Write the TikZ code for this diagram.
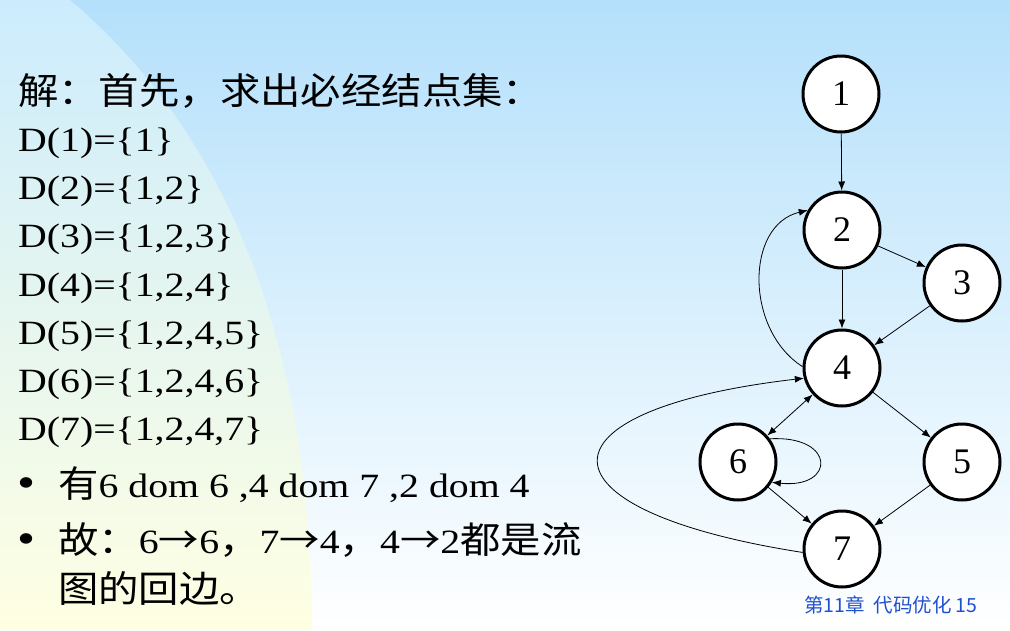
\documentclass[tikz,border=0pt]{standalone}
\usepackage{fontspec}
\setmainfont{Liberation Serif}[FakeStretch=1.17]
\newfontfamily\cjk{Noto Sans CJK SC}[Scale=1.08,FakeStretch=1.1]
\newfontfamily\numfont{Liberation Serif}
\newfontfamily\footfont{Noto Sans CJK SC}
\usetikzlibrary{arrows.meta}
\definecolor{skyTop}{RGB}{180,224,251}
\definecolor{skyMid}{RGB}{216,239,253}
\definecolor{paneTop}{RGB}{204,236,253}
\definecolor{paneMid}{RGB}{236,246,238}
\definecolor{paneBot}{RGB}{255,255,226}
\definecolor{footBlue}{RGB}{32,80,204}

\begin{document}
\begin{tikzpicture}
      [ x=1pt, y=-1pt
      , >={Latex[length=9pt,width=7pt]}
      , block/.style={circle, draw, fill=white, line width=3pt, minimum size=76pt, inner sep=0pt, font=\numfont\fontsize{36}{36}\selectfont}
      , flow/.style={black, draw, line width=0.8pt}
      , txt/.style={anchor=base west, inner sep=0pt, font=\fontsize{34}{40}\selectfont}
      , bullet/.style={anchor=base west, inner sep=0pt, font=\fontsize{44}{44}\selectfont}
      , foot/.style={anchor=base west, inner sep=0pt, text=footBlue, font=\footfont\fontsize{19.5}{20}\selectfont}
      ]
    \useasboundingbox (0,0) rectangle (1010,630);
    \shade[top color=skyTop, middle color=skyMid, bottom color=white] (0,0) rectangle (1010,630);
    \shade[top color=paneTop, middle color=paneMid, bottom color=paneBot]
      (0,0) -- (70,0) .. controls (200,110) and (312,300) .. (312,630) -- (0,630) -- cycle;

    \node[txt] (head) at (18,104) {{\cjk 解：首先，求出必经结点集：}};
    \node[txt] (D1) at (18,151) {D(1)=\{1\}};
    \node[txt] (D2) at (18,199) {D(2)=\{1,2\}};
    \node[txt] (D3) at (18,247) {D(3)=\{1,2,3\}};
    \node[txt] (D4) at (18,296) {D(4)=\{1,2,4\}};
    \node[txt] (D5) at (18,344) {D(5)=\{1,2,4,5\}};
    \node[txt] (D6) at (18,392) {D(6)=\{1,2,4,6\}};
    \node[txt] (D7) at (18,440) {D(7)=\{1,2,4,7\}};
    \node[bullet] (dot1) at (17,497) {•};
    \node[txt] (dom) at (58,497) {{\cjk 有}6 dom 6 ,4 dom 7 ,2 dom 4};
    \node[bullet] (dot2) at (17,553) {•};
    \node[txt] (back) at (58,553) {{\cjk 故：}6{\cjk →}6{\cjk ，}7{\cjk →}4{\cjk ，}4{\cjk →}2{\cjk 都是流}};
    \node[txt] (back2) at (58,602) {{\cjk 图的回边。}};

    \node[block] (1) at (841,94) {1};
    \node[block] (2) at (842,230) {2};
    \node[block] (3) at (962,283) {3};
    \node[block] (4) at (842,368) {4};
    \node[block] (6) at (738,462) {6};
    \node[block] (5) at (962,462) {5};
    \node[block] (7) at (842,549) {7};

    \draw[->, flow]
    (1) edge (2)
    (2) edge (3)
    (2) edge (4)
    (3) edge (4)

    (4) edge (5)
    (6) edge (7)
    (5) edge (7);

    \draw[<->, flow] (4) -- (6);

    \draw[->, flow] (4.178) .. controls (745,330) and (745,225) .. (2.150);
    \draw[->, flow] (7.185) .. controls (530,510) and (530,410) .. (4.195);
    \draw[->, flow] (6.36) .. controls (836,435) and (836,489) .. (6.-31);

    \node[foot] (page) at (804,612) {第11章\ \ 代码优化 15};
    \end{tikzpicture}
\end{document}
